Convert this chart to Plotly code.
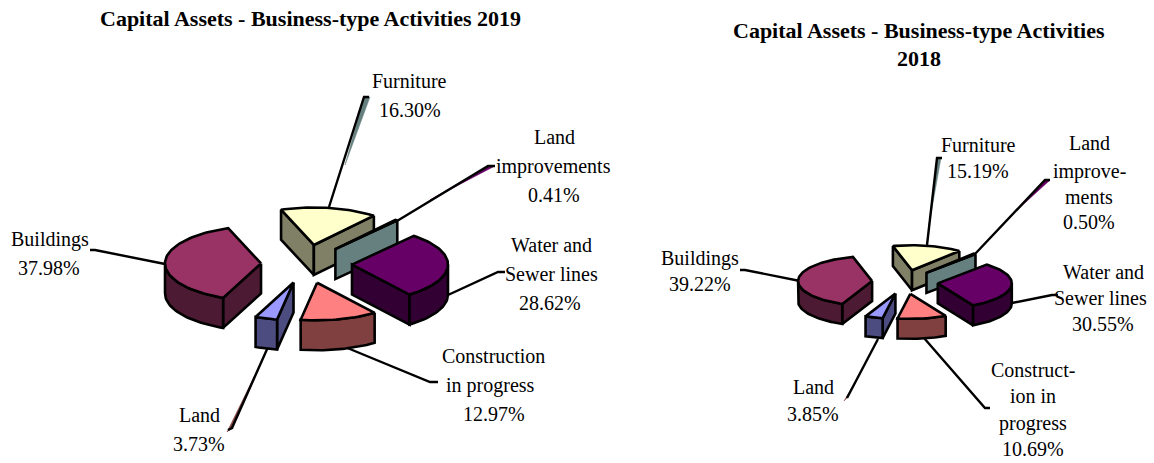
import math
import plotly.graph_objects as go

categories = ["Furniture", "Land improvements", "Water and Sewer lines",
              "Construction in progress", "Land", "Buildings"]
values_2019 = [16.30, 0.41, 28.62, 12.97, 3.73, 37.98]
values_2018 = [15.19, 0.50, 30.55, 10.69, 3.85, 39.22]
top_colors = ["#FFFFCC", "#CCFFFF", "#660066", "#FF8080", "#9999FF", "#993366"]
side_colors = ["#808066", "#668080", "#330033", "#804040", "#4C4C80", "#4D1A33"]

# center x, center y, radius x, radius y, explosion x, explosion y, depth, first slice angle
geom_2019 = dict(cx=306.5, cy=264, a=96, b=37.5, ex=45.5, ey=19.3, depth=30, start=340)
geom_2018 = dict(cx=905, cy=282, a=74, b=25, ex=33, ey=12, depth=20, start=345)

texts = [
    ("<b>Capital Assets - Business-type Activities 2019</b>", 310, 18, 22),
    ("Furniture", 409, 81, 20), ("16.30%", 410, 110, 20),
    ("Land", 554, 137, 20), ("improvements", 553, 166, 20), ("0.41%", 554, 195, 20),
    ("Water and", 551, 245, 20), ("Sewer lines", 551, 274, 20), ("28.62%", 550, 303, 20),
    ("Construction", 493, 356, 20), ("in progress", 490, 385, 20), ("12.97%", 494, 414, 20),
    ("Land", 199, 415, 20), ("3.73%", 199, 444, 20),
    ("Buildings", 50, 239, 20), ("37.98%", 49, 268, 20),
    ("<b>Capital Assets - Business-type Activities</b>", 919, 30, 22), ("<b>2018</b>", 919, 58, 22),
    ("Furniture", 978, 145, 20), ("15.19%", 978, 171, 20),
    ("Land", 1089, 143, 20), ("improve-", 1089, 171, 20), ("ments", 1089, 197, 20), ("0.50%", 1089, 222, 20),
    ("Water and", 1103, 272, 20), ("Sewer lines", 1100, 298, 20), ("30.55%", 1103, 324, 20),
    ("Construct-", 1033, 370, 20), ("ion in", 1033, 396, 20), ("progress", 1033, 423, 20), ("10.69%", 1033, 449, 20),
    ("Land", 813, 387, 20), ("3.85%", 813, 414, 20),
    ("Buildings", 700, 258, 20), ("39.22%", 700, 284, 20),
]

leaders = [
    [(329, 207), (364, 97), (369, 97)],
    [(397, 221), (488, 166), (495, 166)],
    [(448, 295), (498, 272), (505, 272)],
    [(345, 347), (430, 382), (438, 382)],
    [(268, 347), (232, 428), (228, 430)],
    [(165, 264), (95, 250), (90, 250)],
    [(927, 245), (937, 158), (942, 158)],
    [(975, 254), (1045, 180), (1050, 180)],
    [(1012, 303), (1052, 295), (1058, 295)],
    [(924, 338), (985, 408), (990, 408)],
    [(878, 339), (847, 398)],
    [(800, 281), (745, 270), (740, 270)],
]
slivers = [
    ([(345, 165), (364, 97), (370, 97)], "#668080"),
    ([(430, 200), (488, 166), (493, 167)], "#660066"),
    ([(255, 375), (232, 428), (227, 432)], "#804040"),
    ([(929, 225), (937, 158), (941, 158)], "#668080"),
    ([(1015, 212), (1045, 180), (1049, 181)], "#660066"),
    ([(860, 374), (847, 398), (844, 401)], "#804040"),
]

fig = go.Figure()


def add_poly(pts, fill):
    xs = [p[0] for p in pts] + [pts[0][0]]
    ys = [p[1] for p in pts] + [pts[0][1]]
    fig.add_trace(go.Scatter(x=xs, y=ys, mode="lines", fill="toself", fillcolor=fill,
                             line=dict(color="black", width=2.6), hoverinfo="skip",
                             showlegend=False))


def add_pie(values, g):
    total = sum(values)
    ang = g["start"]
    slices = []
    for i, v in enumerate(values):
        sweep = v / total * 360
        slices.append((i, ang, ang + sweep))
        ang += sweep
    # paint from back to front
    slices.sort(key=lambda s: -math.cos(math.radians((s[1] + s[2]) / 2)))
    for i, a0, a1 in slices:
        mid = math.radians((a0 + a1) / 2)
        tx = g["cx"] + g["ex"] * math.sin(mid)
        ty = g["cy"] - g["ey"] * math.cos(mid)
        n = max(2, int((a1 - a0) / 2) + 2)
        arc = []
        for k in range(n):
            t = math.radians(a0 + (a1 - a0) * k / (n - 1))
            arc.append((tx + g["a"] * math.sin(t), ty - g["b"] * math.cos(t)))
        d = g["depth"]
        tip = (tx, ty)

        def band(pts):
            return pts + [(x, y + d) for x, y in reversed(pts)]

        if arc[0][0] < tip[0]:
            add_poly(band([tip, arc[0]]), side_colors[i])
        if arc[-1][0] > tip[0]:
            add_poly(band([arc[-1], tip]), side_colors[i])
        run = []
        for p, q in zip(arc, arc[1:]):
            if q[0] < p[0]:
                run = run or [p]
                run.append(q)
        if run:
            add_poly(band(run), side_colors[i])
        add_poly([tip] + arc, top_colors[i])


for pts, col in slivers:
    xs = [p[0] for p in pts] + [pts[0][0]]
    ys = [p[1] for p in pts] + [pts[0][1]]
    fig.add_trace(go.Scatter(x=xs, y=ys, mode="lines", fill="toself", fillcolor=col,
                             line=dict(color=col, width=0.5), hoverinfo="skip", showlegend=False))
for pts in leaders:
    fig.add_trace(go.Scatter(x=[p[0] for p in pts], y=[p[1] for p in pts], mode="lines",
                             line=dict(color="black", width=2.4), hoverinfo="skip", showlegend=False))

add_pie(values_2019, geom_2019)
add_pie(values_2018, geom_2018)

annotations = [
    dict(x=x, y=y, xref="x", yref="y", text=t, showarrow=False, xanchor="center", yanchor="middle",
         font=dict(family="Liberation Serif", size=s, color="black"))
    for t, x, y, s in texts
]

fig.update_layout(
    width=1154, height=463, margin=dict(l=0, r=0, t=0, b=0),
    paper_bgcolor="white", plot_bgcolor="white", showlegend=False, annotations=annotations,
    xaxis=dict(range=[0, 1154], visible=False, fixedrange=True),
    yaxis=dict(range=[463, 0], visible=False, fixedrange=True),
)
fig.write_html("out.html", config={"displayModeBar": False},
               post_script="document.body.style.margin='0';document.body.style.overflow='hidden';")
